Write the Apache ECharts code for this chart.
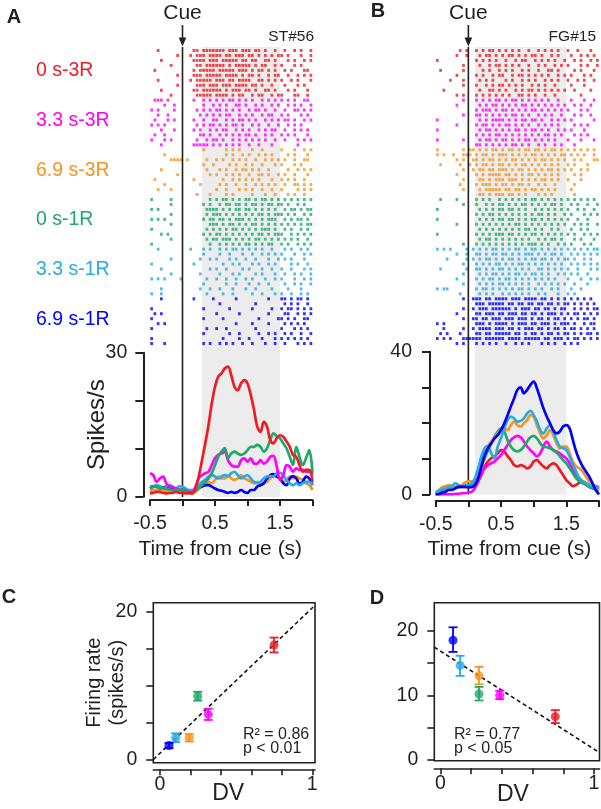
<!DOCTYPE html>
<html><head><meta charset="utf-8">
<script src="https://cdn.jsdelivr.net/npm/echarts@6/dist/echarts.min.js"></script>
<style>html,body{margin:0;padding:0;background:#fff}#c{width:601px;height:809px}</style>
</head><body><div id="c"></div>
<script>
// ---------- categories / colours ----------
const conditions = ['0 s-3R','3.3 s-3R','6.9 s-3R','0 s-1R','3.3 s-1R','6.9 s-1R'];
const colors = ['#ed1c24','#ff00ff','#f7931e','#1fa86a','#29abe2','#0000ff'];
const cellA = 'ST#56', cellB = 'FG#15';
const cueTime = 0;
const bandA = [0.3, 1.5];
const bandB = [0.1, 1.5];

// ---------- PSTH (spikes/s) ----------
const psthTime = [-0.5,-0.45,-0.4,-0.35,-0.3,-0.25,-0.2,-0.15,-0.1,-0.05,0,0.05,0.1,0.15,0.2,0.25,0.3,0.35,0.4,0.45,0.5,0.55,0.6,0.65,0.7,0.75,0.8,0.85,0.9,0.95,1,1.05,1.1,1.15,1.2,1.25,1.3,1.35,1.4,1.45,1.5,1.55,1.6,1.65,1.7,1.75,1.8,1.85,1.9,1.95,2];
const aRed = [0.7,0.8,1.0,1.0,0.8,0.7,0.8,0.8,1.0,0.8, 0.8,0.7,0.8,0.7,1.7,4.2,7.6,11.1,14.9,19.4, 22.9,25.0,25.7,26.7,27.1,25.3,22.9,22.2,23.6,24.3, 23.6,21.2,18.1,14.6,13.5,15.6,14.6,11.8,11.1,12.2, 12.8,12.5,11.5,10.4,8.7,8.3,6.6,5.2,5.6,5.6, 3.1];
const aMagenta = [4.9,4.5,3.1,3.8,4.2,2.8,2.1,2.0,1.7,1.5, 1.4,1.3,1.0,1.0,2.1,3.8,4.5,4.9,5.2,6.6, 8.0,8.7,9.0,9.4,7.6,6.6,6.25,6.25,7.6,8.0, 7.3,8.0,6.9,6.9,7.6,6.9,7.3,8.3,8.5,6.25, 3.5,4.5,6.6,6.25,5.2,5.9,5.6,5.6,5.2,5.2, 4.5];
const aOrange = [1.0,1.4,1.5,1.5,1.4,1.3,1.4,1.3,1.0,1.4, 1.25,1.0,0.7,0.7,1.0,1.7,2.1,2.4,3.1,2.8, 3.5,4.2,3.8,3.8,4.3,3.8,3.5,3.8,4.5,3.8, 3.5,3.1,2.8,3.1,2.4,2.8,3.1,3.8,4.3,4.2, 3.8,3.1,3.5,4.2,3.8,4.2,3.8,3.5,2.8,2.4, 1.4];
const aGreen = [2.1,2.2,2.1,1.7,1.9,1.7,1.5,1.4,1.4,1.5, 1.4,1.0,1.0,0.8,1.25,1.7,2.4,3.1,3.8,4.9, 6.6,8.3,9.4,10.1,8.0,9.0,9.4,9.0,8.7,9.0, 9.7,10.4,10.4,10.8,10.4,9.4,10.1,11.8,13.2,12.6, 12.2,11.1,10.1,8.3,6.6,10.4,8.3,6.6,8.0,9.7, 4.9];
const aLightBlue = [1.7,2.1,2.4,2.2,1.7,2.1,2.4,2.1,1.7,2.2, 2.1,1.7,1.4,1.4,1.7,2.4,3.1,3.5,4.2,4.5, 4.2,3.8,4.2,4.5,4.3,4.9,5.2,4.5,3.8,4.2, 4.5,3.8,3.1,2.8,3.1,3.8,4.2,4.3,4.2,4.9, 5.0,4.5,3.5,2.8,2.4,2.8,2.4,2.8,3.1,3.1, 2.4];
const aBlue = [1.7,2.1,2.2,2.1,1.9,2.1,1.9,1.7,1.5,1.4, 1.4,1.0,0.8,1.0,1.4,1.9,2.1,2.4,2.4,2.1, 1.7,1.4,1.25,1.0,0.8,1.0,0.8,1.0,1.4,1.0, 0.8,1.4,1.4,2.1,2.4,2.8,3.8,4.5,4.7,4.2, 3.8,2.8,2.4,3.8,4.3,3.8,2.8,3.1,4.2,3.8, 2.4];

const bRed = [0.1,0.5,0.7,1.2,1.4,1.7,2.0,2.1,2.3,2.1, 2.0,2.1,2.6,3.6,5.4,7.8,9.2,10.1,10.6,11.5, 12.4,12.0,10.7,9.6,8.2,7.8,8.2,7.9,7.3,7.8, 9.2,9.6,8.7,7.8,7.3,8.2,8.7,8.2,6.8,5.4, 4.0,3.1,2.3,2.6,3.3,3.6,3.1,2.1,1.7,1.4, 1.2];
const bMagenta = [0,0,0,0,0,0,0.1,0.1,0.3,0.3, 0.5,0.7,1.7,3.6,5.9,7.3,8.2,8.7,9.2,10.1, 11.0,12.4,13.8,15.2,16.0,16.4,16.0,14.8,13.4,12.4, 11.5,10.6,11.5,13.4,14.8,13.4,12.4,12.0,11.5,10.7, 10.1,8.7,6.8,5.4,4.5,3.6,3.1,2.6,2.6,2.3, 2.0];
const bOrange = [0.3,1.2,2.0,2.3,2.6,2.3,2.1,2.0,2.6,3.3, 3.6,3.6,4.0,5.9,8.7,11.5,13.4,14.8,16.0,17.1, 18.0,18.5,18.0,19.4,20.4,19.4,19.0,19.9,20.8,22.2, 21.8,19.4,17.1,15.7,16.6,18.0,16.6,14.3,12.9,13.4, 13.4,11.5,9.2,7.8,7.3,6.4,5.0,3.6,2.6,2.1, 1.2];
const bGreen = [0.1,0.5,0.7,1.2,1.4,1.7,1.7,2.0,2.1,2.1, 2.3,2.6,3.6,5.4,7.8,10.1,12.4,14.3,16.2,17.6, 18.5,17.6,15.2,13.4,12.4,12.0,12.4,13.4,14.8,16.0, 16.4,15.7,14.3,13.4,13.2,12.9,12.4,11.7,10.7,9.6, 8.7,7.3,5.9,4.5,3.6,3.1,2.6,2.1,1.7,1.4, 1.2];
const bLightBlue = [0.7,1.0,1.4,1.7,2.0,2.3,3.1,2.6,2.1,2.6, 2.6,3.1,4.5,7.3,10.6,12.9,13.6,11.5,10.1,13.4, 15.7,18.5,20.8,21.8,21.3,20.4,20.6,21.3,22.7,23.4, 22.2,20.4,18.0,17.1,18.5,19.4,17.6,15.2,13.4,12.9, 12.4,10.6,8.2,6.4,4.5,3.6,3.1,2.6,2.1,2.1, 1.7];
const bBlue = [0,0.1,0.5,0.7,1.2,1.2,1.7,2.1,2.1,2.1, 2.0,2.0,2.6,4.5,7.8,11.0,12.9,14.3,15.7,16.6, 18.0,19.9,22.2,24.6,26.9,29.3,30.0,28.3,29.3,30.7, 31.6,29.7,26.9,24.1,21.8,19.9,18.0,17.1,17.6,19.0, 19.4,18.5,15.2,12.0,9.6,7.8,6.4,5.0,3.1,1.2, 0];

const psthTicksA = [-0.5,0,0.5,1,1.5,2];
const psthLabelsA = [-0.5,0.5,1.5];

// ---------- rasters: one string per trial, 0.05 s bins from -0.5 s, 'x' = spike ----------
const rasterBinStart = -0.5, rasterBinWidth = 0.05, trialsPerCond = 10;
const rastA_red = [
"..x....... ...xx.xxxx xxx.xxx.xx x.xx.x..x. .x..x.x..x",
"........x. ..x.xxx.xx xx.xx.xxx. xx.x.x.x.x x.x...x..x",
"...x...... ...xxxx.xx x.xxxxx.xx .xx..xx.x. ..x.x..x.x",
"......x... ....xx.xxx xxx.x.xxxx x.x.xx..x. x...x.x...",
".x........ ...x.xxxxx .xxxxx.xxx .x.xx.x.x. .x.x...xx.",
"........x. ...xxx.xxx xx.xxxx.x. xx.x..x.xx ..x..x.x.x",
"..x....... ..x.xxxxx. xxx.xx.xxx x..xx.x.x. x..x.x...x",
"........x. ....xxx.xx x.xxx.xxxx .xx.x..x.. .x...x.x..",
"...x...... ...xx.xxxx xx.x.xxx.x x.x..xx.x. ..x.x...x.",
"......x... ....xxxxx. xxxx.x.xx. .x.xx..x.x x...xx..x."];
const rastA_mag = [
".xxx.x.... ...x..x.x. x.x.xx.x.x .x..x.x.x. x.x.x..xx.",
"....x..x.. ......x..x .x.x..xx.x ..x.x..x.x ..x.x.x..x",
"x.x....x.. ....x.x.x. xx.x.x.x.. x.xx.x..x. .x..xx.x.x",
"..x..x.... .....x.x.x .x.xx..x.x .x..x.xx.. x.x...x.x.",
".x...x.x.. ...x..x..x x..x.x.xx. x.x..x.x.x .xx.x..x.x",
"x.x.x..... ....x.x.xx .x.x.xx.x. .x.x..x..x ..x.x.x...",
"...x...x.. ...x.x..x. x.xx..x.x. x..x.x.xx. .x..x.x.x.",
".x..x..... .....xx.x. .x.x.x.x.x x.x..x.x.. x.x.x...x.",
"x...x.x... ....x..x.x x.x..x.x.x .x.x.x..x. .x...x.x.x",
"...x...... ...xxxxx.x .x.x.x.x.. x..x...x.. .....x...."];
const rastA_org = [
".......... ......x... ...x.x.x.. .x..x..... x...x..x.x",
"....x..... .......... ...x.x..x. x..x.x.x.. ..x.x...x.",
"......xxxx .x.....x.. x.x..x.x.x ..x..x.x.x .x..x..xx.",
".......... ......x..x ....x.x..x .x..x...x. x...x.x...",
"...x...... .......x.. .x.x..x.xx .x.x..x... ..x..x.x.x",
"........x. ........x. x..x.x.x.. x..xx.x..x .x..x...x.",
".x........ ...x...... ..x..x.x.x .x.x...x.. x.x.x..x..",
"....x..... .....x.... .x.x..x..x ..x.x.x.x. .x..xx.x.x",
"..x...x... .......... x..x...x.x .x..x..x.. x....x.x.x",
".......... ....x...x. ...x.x.... .x...x..x. ..x.x..x.."];
const rastA_grn = [
"x.....x... ........x. x.xx.x.x.x x.x.xx.x.x .x.x.x.x.x",
"......x... ......x.x. .x.xx.xx.x .xx.x.xx.x x.x..x.x..",
"x.x....... .......xxx x.x.x.xx.x x.x.x.x.x. .x.xx.x.xx",
"......x... .......x.x xx.x.x.x.x .x.xx.x.xx x.x.x..x.x",
"x.x.x..... ......x.xx .xx.x.xxx. x.x.x.xxx. .x.x.xx.x.",
"......x... ........xx x.x.xx.x.x .xx.x.x.x. x.x.x.x.xx",
"x......... .......x.x .x.x.xx.x. x.x.xxx.x. .x.x..x.x.",
"...x.x.... ......x.x. xx.x.x.x.x .x.xx.x.xx x..x.x.x.x",
"......x... .......x.x x.xxx.x.x. x.xx.x.x.x .x.x.x..x.",
"x......... ........x. .x.x.x.x.x x.x.x.xx.. x.x..x.x.x"];
const rastA_lbl = [
"..x....... ..x...x.x. .x.x.xx.x. x.x.x..x.. .x.x..x.x.",
".......... ......x... .x..x...x. .x..x.x.x. x...x..x.x",
"......x... .....x..x. x...x.x..x ..x...x..x .x.x...x..",
"x......... ...x...... ..x..x.x.. .x.x..x.x. ...x.x..x.",
"...x...... ........x. x..x....x. x...x..x.. x..x...x.x",
"......x... .....x.... .x...x.x.. ..x.x...x. .x..x.x..x",
"x.x.x....x .......x.. x..x..x..x .x...x..x. x...x..x.x",
".......... ......x... ...x..x... x..x..x... .x..x.x..x",
"...x...... .....x..x. .x...x...x ..x....x.. ..x...x...",
"x..x...... .......x.. ..x..x.... .x..x...x. x..x..x.x."];
const rastA_blu = [
"...x...... ...x.....x ......x... ......x... xx.x.xx.x.",
".......... .......... .x........ ..x....... .x.x.x..x.",
"x......... ......x... ....x..... .x.....x.. x.xx.x.x.x",
".x.x...... .......... x......x.. ......x... .xx..x.x.x",
"x......... ......x... ..x....... ...x.....x x.x.x..xx.",
"..x.x..... .......... ......x... .x....x... .x.x.x.x..",
"x......... .......x.. x..x...... ..x....... x...x.x.x.",
".......... ......x... ....x..x.. ...x..x.x. .x.x..x..x",
"x......... .......... ..x....x.. x...x...x. x.x.x.x.x.",
"x...x..... ......x.x. .x.x.x..x. .x...x..x. .x...x.x.x"];

const rastB_red = [
".......x.x ..x.x.xx.x .x.x.x..x. .x.x.x.x.. x..x...x..",
"......x..x ...x.xx.x. x.xx.x.x.x x.x..x.x.. .x..x.x.x.",
"x......... ..x.x.x.x. .x..x.xx.. x.x.x.x..x ..x.x..x.x",
"........x. ...x..x.xx .x.x.x..x. .x.x..x.x. x...x.x..x",
".x......x. ....x.x..x .x.x..x.x. .x..xx.x.. ..x.x...x.",
"......x... ..x.x..x.x x..x.xx.x. x.x.x..x.x .x...x.x..",
"....x...x. ...x.x.x.. .x.x..x.x. x..x.x.x.. x..x.x..x.",
"........x. ..x..x.x.x x.x.x.x..x .x.x..x... .x...x....",
"..x....... ...x..xx.x .x..x.x.xx .x.x.x.x.x ..x....x..",
"......x.x. ..x.x.x.x. x.x..xx.x. x..x..x... ....x....."];
const rastB_mag = [
"........x. ..x.x.x.xx .x.xx.x.x. x.x.x..x.. .x...x..x.",
"......x... ...x.x.xx. x.x.x.xx.x .x.x.x.x.x ..x.x..x..",
".......... ..x.xxx.x. xx.x.x.x.x x.x.x.x.x. x...x.x...",
"........x. ..xx.x.x.x .x.xx.x.x. .x.x.x..x. ..x.x..x..",
"x......... ...x.x.xxx x.x.x.xx.x x.x..x.x.x .x......x.",
"......x... ..x.xx.x.x .xx.x.x.x. .x.x.x.x.. ..x.x.x...",
"x......... ...x.xx.x. x.x.xx.x.x x.x.x..x.x .x...x....",
".......... ..x.x.x.xx .x.x.x.x.x .x.xx.x.x. ..x.x.x...",
"x.......x. ...x.xx.x. xx.x.x.xx. x.x.x.x... x...x...x.",
".......... ..xx.x.x.x .x.xx.x.x. .x.x..x.x. ..x......."];
const rastB_org = [
"x.......x. xx.x.x.xx. x.xx.x.xx. xx.x.xx.x. x.x.x.x.x.",
"x.x..x..xx x.x.xx.x.x xx.x.x.x.x x.x.x.x.xx .x.x.x..x.",
"......x.x. .xx.x.xx.x .x.xx.x.x. x.xx.x.x.x ..x.x...xx",
".x.....x.. x.x.xx.x.x x.x.x.xx.x .x.x.x.x.. x.x...x...",
"........x. .x.xx.xx.x xx.x.xx.x. x.x.xx.x.x .x..x.x...",
"......x... ..x.x.xxxx .xx.x.x.xx .x.x.x.x.. ..x.x.....",
"........x. ...xx.x.xx x.xxx.x.x. x.xx.x.x.. x...x.....",
".......x.. ..x.xxx.x. xx.x.xx.x. .x.x..x... ..x.......",
"........x. ...x.xxxxx .xx.xx.x.x x.x.x.x... .x........",
".......... ...xx.x.xx x.xx.x.x.. .x.x.x.... ..x......."];
const rastB_grn = [
".x....x... ..x.x.x..x .x.x.x.x.x x.x.x.x.x. x.x.x.x.x.",
"........x. ..x..x.x.x x.x.x.xx.x .x.x.xx.x. .x.x..x..x",
"x......... ...x.x.x.x x.xx.x.x.. x.x.x.x.x. x..x.x..x.",
".......... ..x.x.xx.x .x.x.x.x.x .xx.x.x..x .x...x.x.x",
"x......... ...x.x.x.x x.xx.x.x.x x.x.x.x.x. x..x..x...",
"......x... ..x.x.x.x. x.x.xx.x.x .x.x.x.x.x ..x.x.x..x",
".......... ...x.x.x.x .x.x.x.xx. x.x..x.x.. .x..x.x...",
"x......... ..x.x.x.xx x.xx.x.x.x x.x.x.x.x. x.x..x.x.x",
".......... ...x.xx.x. x.x.x.x.x. .x.x.xx.x. ..x.x...x.",
"........x. ..x.x.x.x. x.x.x.x.xx x.x.x..x.x .x...x.x.."];
const rastB_lbl = [
"x.x.x....x .x.x.x.xx. x.x.xx.x.x x.x.x.x.x. x.x.x.x.xx",
"......x..x ..xx.x.xx. xx.x.x.xxx .x.x.xx.x. .x.x.x.x.x",
"...x.....x .x.x.xx.x. x.xx.x.x.x x.xx.x.x.x x.x..x.x..",
"........x. ..x.x.x.xx .x.x.xx.x. x.x.x.x.x. .x.x.x.x.x",
".x.......x ..xx.x.x.x x.x.x.x.x. .xx.x.x.x. x..x...x.x",
"........x. ...x.x.xx. x.x.xx.x.x x.x.x..x.x .x.x..x...",
"......x... ..x.x.xx.x .xx.x.x.x. x.x.x.x... x...x..x.x",
"........x. ...x.x.x.x x.x.x.x.x. .x.x.x.x.x ..x...x...",
"x.xx...... ..x.xx.x.x .x.x.xx.x. x.x..x.x.. .x..x.....",
".......x.. ...x.x.x.. x.x.x.x.x. .x.x...x.. x.x......."];
const rastB_blu = [
"........x. .xxx.xx.xx xx.xxx.xxx x.xx.x.x.x .x.x.x.x..",
".......... ..xxx.xxxx x.xx.xx.xx .xx.xx.x.x x.x.x.x.x.",
"........x. .x.xxx.xxx xxx.x.xxx. xx.xx.x.xx ..x.x.x.xx",
"......x... ..xx.xxx.x x.xxx.xx.x x.x.xxx.x. x.xx.x.x.x",
"........x. .xx.xx.xxx .xxx.xxx.x .xx.x.xx.x .x.x.xx.x.",
"x.x....... ..xxx.x.xx xx.x.xxx.x x.xxx.x.xx x.x..x.xx.",
"..x.....x. .x.xxxx.xx x.xx.x.xxx .xx.x.xx.x .xx.x.x.x.",
".x.x...x.. ..xx.xx.xx xxx.xx.x.x x.x.xx.x.x x.x.x.xx.x",
"x.x.x...xx xxxx.xxxxx x.xxxx.xxx xx.xx.xxx. x.xx.x.x.x",
"......x.x. ..x.x.x.x. .x..x.x.x. ..x.x.x..x .x.x......"];

// ---------- panels C / D: firing rate vs DV (order = conditions) ----------
const dvC = [0.749,0.317,0.192,0.248,0.103,0.059];
const rateC = [15.5,6.15,3.0,8.6,3.0,1.95];
const rateC_lo = [14.5,5.4,2.5,8.0,2.4,1.6];
const rateC_hi = [16.5,6.9,3.5,9.2,3.6,2.3];
const dvD = [0.748,0.386,0.251,0.251,0.128,0.082];
const rateD = [6.7,10.0,13.0,10.2,14.6,18.5];
const rateD_lo = [5.7,9.4,11.7,9.2,13.0,16.7];
const rateD_hi = [7.7,10.7,14.4,11.3,16.1,20.5];
const statsC = ['R\u00b2 = 0.86','p < 0.01'];
const statsD = ['R\u00b2 = 0.77','p < 0.05'];
const dvTicks = [0,0.2,0.4,0.6,0.8,1];
const dvLabels = [0,1];

// ---------- helpers ----------
const FONT = 'Liberation Sans, Arial, Helvetica, sans-serif';
const INK = '#231f20';
const TICK_FS = 19.5, TITLE_FS = 21;
function zip(xs, ys){ return xs.map((x,i)=>[x, ys[i]]); }
function rasterPoints(trials, c){
  const pts=[];
  trials.forEach((s,j)=>{
    const str=s.replace(/ /g,'');
    for(let i=0;i<str.length;i++) if(str[i]==='x')
      pts.push([rasterBinStart+(i+0.5)*rasterBinWidth, c*trialsPerCond+j+0.5]);
  });
  return pts;
}
function fit(xs, ys){
  const n=xs.length, mx=xs.reduce((a,b)=>a+b)/n, my=ys.reduce((a,b)=>a+b)/n;
  let sxy=0,sxx=0; xs.forEach((x,i)=>{sxy+=(x-mx)*(ys[i]-my); sxx+=(x-mx)*(x-mx);});
  const b=sxy/sxx; return [my-b*mx, b];
}
function bandSeries(xi, band){
  return {type:'custom', xAxisIndex:xi, yAxisIndex:xi, silent:true, z:0,
    data:[[band[0],band[1]]],
    renderItem:(p,api)=>{const a=api.coord([api.value(0),1]), b=api.coord([api.value(1),0]);
      return {type:'rect', shape:{x:a[0],y:a[1],width:b[0]-a[0],height:b[1]-a[1]}, style:{fill:'#ececec'}};}};
}
function cueSeries(xi){
  return {type:'custom', xAxisIndex:xi, yAxisIndex:xi, silent:true, z:3,
    data:[[cueTime]],
    renderItem:(p,api)=>{const a=api.coord([api.value(0),1]), b=api.coord([api.value(0),0]);
      return {type:'line', shape:{x1:a[0],y1:a[1],x2:b[0],y2:b[1]}, style:{stroke:INK,lineWidth:1.6}};}};
}
function errSeries(xi, xs, lo, hi){
  return {type:'custom', xAxisIndex:xi, yAxisIndex:xi, silent:true, z:4,
    data:xs.map((x,i)=>[x,lo[i],hi[i]]),
    renderItem:(p,api)=>{const c=colors[p.dataIndex];
      const l=api.coord([api.value(0),api.value(1)]), h=api.coord([api.value(0),api.value(2)]), w=4.5;
      const st={stroke:c,lineWidth:1.8};
      return {type:'group',children:[
        {type:'line',shape:{x1:l[0],y1:l[1],x2:h[0],y2:h[1]},style:st},
        {type:'line',shape:{x1:l[0]-w,y1:l[1],x2:l[0]+w,y2:l[1]},style:st},
        {type:'line',shape:{x1:h[0]-w,y1:h[1],x2:h[0]+w,y2:h[1]},style:st}]};}};
}
function hidden(gi, min, max, inverse){
  return {gridIndex:gi, type:'value', min, max, inverse:!!inverse, show:false, splitLine:{show:false}};
}
const axLine = (w)=>({show:true, onZero:false, lineStyle:{color:INK, width:w}});

const rastersA=[rastA_red,rastA_mag,rastA_org,rastA_grn,rastA_lbl,rastA_blu];
const rastersB=[rastB_red,rastB_mag,rastB_org,rastB_grn,rastB_lbl,rastB_blu];
const psthA=[aRed,aMagenta,aOrange,aGreen,aLightBlue,aBlue];
const psthB=[bRed,bMagenta,bOrange,bGreen,bLightBlue,bBlue];
const drawOrderA=[2,5,4,1,3,0];
const drawOrderB=[0,1,3,2,4,5];

const gridsBase = [
  {left:150, top:47, width:162.5, height:450},
  {left:150, top:48, width:162.5, height:298},
  {left:150, top:352.7, width:162.5, height:144},
  {left:435.7, top:47, width:163.3, height:447.5},
  {left:435.7, top:48, width:163.3, height:298},
  {left:435.7, top:351.7, width:163.3, height:142.6},
  {left:153.3, top:602.7, width:161.7, height:160, show:true, borderColor:INK, borderWidth:1.6, backgroundColor:'transparent'},
  {left:434.3, top:602.7, width:165.2, height:158, show:true, borderColor:INK, borderWidth:1.6, backgroundColor:'transparent'}
].map(g=>Object.assign({containLabel:false, outerBoundsMode:'none'}, g));

function timeAxis(gi, off, gap, shift){
  return {gridIndex:gi, type:'value', min:-0.5, max:2.0, offset:off,
    axisLine:axLine(2), splitLine:{show:false},
    axisTick:{show:true, customValues:psthTicksA, length:6, lineStyle:{color:INK,width:2}},
    axisLabel:{customValues:psthLabelsA, fontSize:TICK_FS, margin:14, color:INK, fontFamily:FONT},
    name:'Time from cue (s)', nameLocation:'middle', nameGap:gap, nameMoveOverlap:false,
    nameTextStyle:{fontSize:TITLE_FS, color:INK, fontFamily:FONT, padding:[0,shift,0,0]}};
}
function rateAxis(gi, max, off, margin, name){
  const ax={gridIndex:gi, type:'value', min:0, max, interval:10, offset:off,
    axisLine:axLine(2), splitLine:{show:false},
    axisTick:{show:true, length:8, lineStyle:{color:INK,width:2}},
    axisLabel:{customValues:[0,max], fontSize:TICK_FS, margin, color:INK, fontFamily:FONT}};
  if(name){Object.assign(ax,{name, nameLocation:'middle', nameGap:34, nameMoveOverlap:false, nameTextStyle:{fontSize:24,color:INK,fontFamily:FONT}});}
  return ax;
}
function dvAxis(gi, min, max, off, gap, shift){
  return {gridIndex:gi, type:'value', min, max, offset:off,
    axisLine:axLine(1.6), splitLine:{show:false},
    axisTick:{show:true, customValues:dvTicks, length:6, lineStyle:{color:INK,width:1.6}},
    axisLabel:{customValues:dvLabels, fontSize:TICK_FS, margin:5, color:INK, fontFamily:FONT},
    name:'DV', nameLocation:'middle', nameGap:gap, nameMoveOverlap:false,
    nameTextStyle:{fontSize:23,color:INK,fontFamily:FONT, padding:[0,shift,0,0]}};
}
function frAxis(gi, min, max, labels, name){
  const ax={gridIndex:gi, type:'value', min, max,
    axisLine:{show:false, onZero:false}, splitLine:{show:false},
    axisTick:{show:true, customValues:[0,5,10,15,20], length:7, lineStyle:{color:INK,width:1.6}},
    axisLabel:{customValues:labels, fontSize:TICK_FS, margin:16, color:INK, fontFamily:FONT}};
  if(name){Object.assign(ax,{name, nameLocation:'middle', nameGap:24, nameMoveOverlap:false, nameTextStyle:{fontSize:20,lineHeight:23,color:INK,fontFamily:FONT}});}
  return ax;
}

const xAxes=[hidden(0,-0.5,2.0), hidden(1,-0.5,2.0), timeAxis(2,3.3,39,22),
  hidden(3,-0.5,2.0), hidden(4,-0.5,2.0), timeAxis(5,6.7,38,16),
  dvAxis(6,-0.044,1.018,6.6,13,12), dvAxis(7,-0.04,1.036,7.6,15,8)];
const yAxes=[hidden(0,0,1), hidden(1,0,60,true), rateAxis(2,30,6.7,16,'Spikes/s'),
  hidden(3,0,1), hidden(4,0,60,true), rateAxis(5,40,5.7,18,null),
  frAxis(6,-0.36,21.2,[0,20],'Firing rate\n(spikes/s)'), frAxis(7,-0.1,24.3,[0,10,20],null)];

const series=[];
series.push(bandSeries(0,bandA), cueSeries(0), bandSeries(3,bandB), cueSeries(3));
rastersA.forEach((r,c)=>series.push({type:'scatter', xAxisIndex:1, yAxisIndex:1, symbol:'rect', symbolSize:[2.7,3], silent:true, z:2, itemStyle:{color:colors[c]}, data:rasterPoints(r,c)}));
rastersB.forEach((r,c)=>series.push({type:'scatter', xAxisIndex:4, yAxisIndex:4, symbol:'rect', symbolSize:[2.7,3], silent:true, z:2, itemStyle:{color:colors[c]}, data:rasterPoints(r,c)}));
drawOrderA.forEach(c=>series.push({type:'line', xAxisIndex:2, yAxisIndex:2, symbol:'none', smooth:0.35, silent:true, z:4, lineStyle:{color:colors[c], width:2.7}, data:zip(psthTime, psthA[c])}));
drawOrderB.forEach(c=>series.push({type:'line', xAxisIndex:5, yAxisIndex:5, symbol:'none', smooth:0.35, silent:true, z:4, lineStyle:{color:colors[c], width:2.7}, data:zip(psthTime, psthB[c])}));

[[6,dvC,rateC,rateC_lo,rateC_hi],[7,dvD,rateD,rateD_lo,rateD_hi]].forEach(([gi,xs,ys,lo,hi])=>{
  const [a,b]=fit(xs,ys); const xa=xAxes[gi];
  series.push({type:'line', xAxisIndex:gi, yAxisIndex:gi, symbol:'none', silent:true, z:3, clip:true,
    lineStyle:{color:'#111', width:1.6, type:[4,3]}, data:[[xa.min,a+b*xa.min],[xa.max,a+b*xa.max]]});
  series.push(errSeries(gi,xs,lo,hi));
  series.push({type:'scatter', xAxisIndex:gi, yAxisIndex:gi, symbol:'circle', symbolSize:9, silent:true, z:5,
    data:xs.map((x,i)=>({value:[x,ys[i]], itemStyle:{color:colors[i]}}))});
});

const chart=echarts.init(document.getElementById('c'), null, {renderer:'canvas'});
chart.setOption({animation:false, backgroundColor:'#fff', textStyle:{fontFamily:FONT},
  grid:gridsBase, xAxis:xAxes, yAxis:yAxes, series});

// ---------- annotations ----------
function txt(x,y,t,size,opts){
  return Object.assign({type:'text', x, y, silent:true, z:10,
    style:Object.assign({text:t, font:(opts&&opts.bold?'bold ':'')+size+'px '+FONT, fill:(opts&&opts.fill)||INK,
      align:(opts&&opts.align)||'left', verticalAlign:'middle', textAlign:(opts&&opts.align)||'left', textVerticalAlign:'middle',
      lineHeight:(opts&&opts.lh)||size}, {})});
}
const g=[];
[0,3].forEach(xi=>{
  const px=chart.convertToPixel({xAxisIndex:xi}, cueTime);
  g.push({type:'line', silent:true, shape:{x1:px,y1:25,x2:px,y2:40}, style:{stroke:INK,lineWidth:1.6}});
  g.push({type:'polygon', silent:true, shape:{points:[[px-3.8,37.5],[px+3.8,37.5],[px,46.5]]}, style:{fill:INK}});
  g.push(txt(px,13.5,'Cue',21,{align:'center'}));
});
g.push(txt(14,17.5,'A',20,{bold:true,align:'center'}));
g.push(txt(378,11,'B',20,{bold:true,align:'center'}));
g.push(txt(9,597.5,'C',20,{bold:true,align:'center'}));
g.push(txt(377,598,'D',20,{bold:true,align:'center'}));
g.push(txt(314,37,cellA,15.5,{align:'right'}));
g.push(txt(596,37,cellB,15.5,{align:'right'}));
conditions.forEach((name,c)=>{
  const py=chart.convertToPixel({yAxisIndex:1}, c*trialsPerCond+trialsPerCond/2);
  g.push(txt(36,py-2,name,19.5,{fill:colors[c]}));
});
g.push(txt(243,735,statsC[0],16));
g.push(txt(243,749,statsC[1],16));
g.push(txt(454,735,statsD[0],16));
g.push(txt(454,749,statsD[1],16));
chart.setOption({graphic:g});
</script></body></html>
